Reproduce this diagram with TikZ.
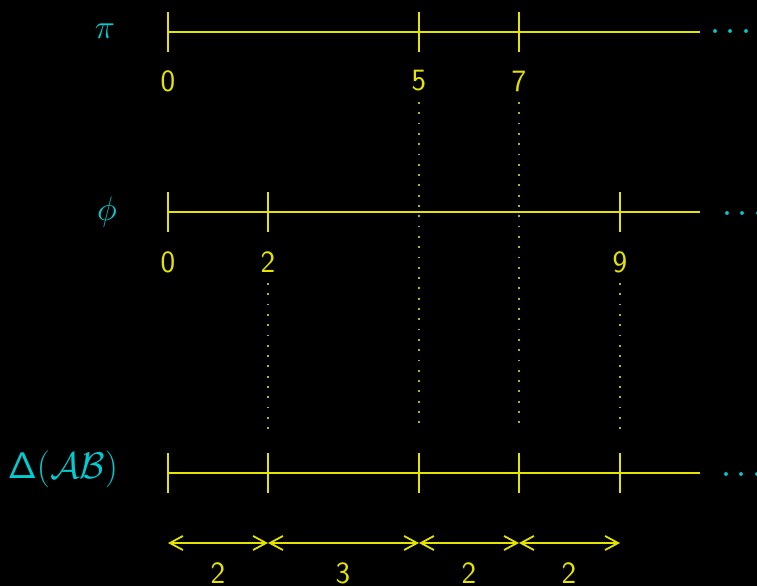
\RequirePackage{fix-cm}
\documentclass[tikz,border=0pt]{standalone}
\usetikzlibrary{arrows.meta}
\definecolor{ylw}{RGB}{228,228,0}
\definecolor{cyn}{RGB}{0,205,210}
\tikzset{
  axis/.style={draw=ylw, line width=2.2pt},
  tick/.style={draw=ylw, line width=2.2pt},
  guide/.style={draw=ylw!80!black, line width=1.8pt, dash pattern=on 1.8pt off 8.5pt},
  span/.style={draw=ylw, line width=1.8pt, {Straight Barb[length=13pt,width=14pt,line width=1.8pt]}-{Straight Barb[length=13pt,width=14pt,line width=1.8pt]}},
  num/.style={text=ylw, font=\fontsize{31}{34}\selectfont\sffamily, inner sep=0pt},
  lbl/.style={text=cyn, inner sep=0pt},
  more/.style={text=cyn, inner sep=0pt, font=\fontsize{36}{40}\selectfont}
}
\begin{document}
\begin{tikzpicture}[x=1pt,y=-1pt]
\fill[black] (0,0) rectangle (757,586);
\useasboundingbox (0,0) rectangle (757,586);
% row coordinates
\foreach \r/\y in {a/32,b/212,c/473}{
  \coordinate (\r0) at (168,\y);
  \coordinate (\r2) at (268,\y);
  \coordinate (\r5) at (419,\y);
  \coordinate (\r7) at (519,\y);
  \coordinate (\r9) at (620,\y);
  \coordinate (\r end) at (700,\y);
}
% axes
\draw[axis] (a0) -- (aend);
\draw[axis] (b0) -- (bend);
\draw[axis] (c0) -- (cend);
% ticks
\foreach \p in {a0,a5,a7,b0,b2,b9,c0,c2,c5,c7,c9}{
  \draw[tick] ([yshift=-20pt]\p) -- ([yshift=20pt]\p);
}
% row labels
\node[lbl, font=\fontsize{34}{38}\selectfont] (lpi) at (105,31) {$\pi$};
\node[lbl, font=\fontsize{34}{38}\selectfont] (lphi) at (107,212) {$\phi$};
\node[lbl, font=\fontsize{37}{40}\selectfont] (ldelta) at (63,469) {$\mathsf{\Delta}(\mathcal{AB})$};
% continuation dots
\node[more] (ma) at (731,33) {$\cdots$};
\node[more] (mb) at (743,214) {$\cdots$};
\node[more] (mc) at (742,475) {$\cdots$};
% numbers
\node[num] (n0a) at (168,81) {0};
\node[num] (n5a) at (419,81) {5};
\node[num] (n7a) at (519,81) {7};
\node[num] (n0b) at (168,262) {0};
\node[num] (n2b) at (268,262) {2};
\node[num] (n9b) at (620,262) {9};
% guide dotted lines
\coordinate (g5) at (419,430);
\coordinate (g7) at (519,430);
\coordinate (g2) at (268,430);
\coordinate (g9) at (620,430);
\draw[guide] (419,102) -- (g5);
\draw[guide] (519,102) -- (g7);
\draw[guide] (268,283) -- (g2);
\draw[guide] (620,283) -- (g9);
% spans
\coordinate (s0) at (168,543);
\coordinate (s2) at (268,543);
\coordinate (s5) at (419,543);
\coordinate (s7) at (519,543);
\coordinate (s9) at (620,543);
\draw[span] (s0) -- (s2);
\draw[span] (s2) -- (s5);
\draw[span] (s5) -- (s7);
\draw[span] (s7) -- (s9);
\node[num] (d1) at (218,573) {2};
\node[num] (d2) at (343,573) {3};
\node[num] (d3) at (469,573) {2};
\node[num] (d4) at (569,573) {2};
\end{tikzpicture}
\end{document}
